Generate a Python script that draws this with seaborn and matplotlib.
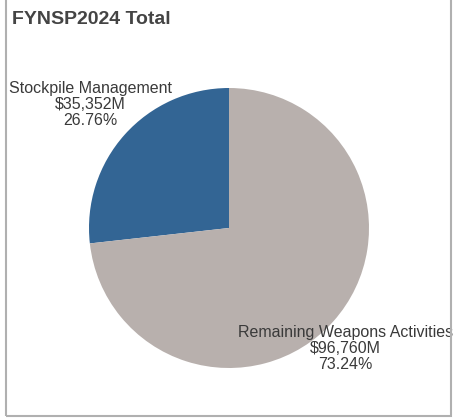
import matplotlib.pyplot as plt
import matplotlib.patches as mpatches
import seaborn as sns

sns.set_theme(style="white")
plt.rcParams['font.family'] = ['Liberation Sans', 'DejaVu Sans']

# FYNSP2024 totals ($M)
categories = ["Stockpile Management", "Remaining Weapons Activities"]
values = [35352, 96760]
pct_labels = ["26.76%", "73.24%"]
colors = ["#336594", "#b8b0ad"]
label_pos = [(-0.99, 0.88), (0.83, -0.86)]

fig = plt.figure(figsize=(4.54, 4.18), dpi=100)
ax = fig.add_axes([89 / 454, 50 / 418, 280 / 454, 280 / 418])

wedges, _ = ax.pie(values, colors=colors, startangle=90, counterclock=True,
                   wedgeprops=dict(linewidth=0))
ax.set_aspect("equal")
ax.set_xlim(-1, 1)
ax.set_ylim(-1, 1)

for (x, y), cat, v, p in zip(label_pos, categories, values, pct_labels):
    ax.text(x, y, f"{cat}\n${v:,}M\n{p}",
            ha="center", va="center", fontsize=11.5, color="#3a3a3a",
            linespacing=1.08, clip_on=False)

fig.text(12 / 454, 1 - 20 / 418, "FYNSP2024 Total", fontsize=14,
         fontweight="bold", color="#444444", va="center", ha="left")

# panel frame
fig.patches.append(mpatches.Rectangle((6 / 454, 2 / 418), 445 / 454, 420 / 418,
                                      transform=fig.transFigure, fill=False,
                                      edgecolor="#b0b0b0", linewidth=1.5))

fig.savefig("out.png", dpi=100)
